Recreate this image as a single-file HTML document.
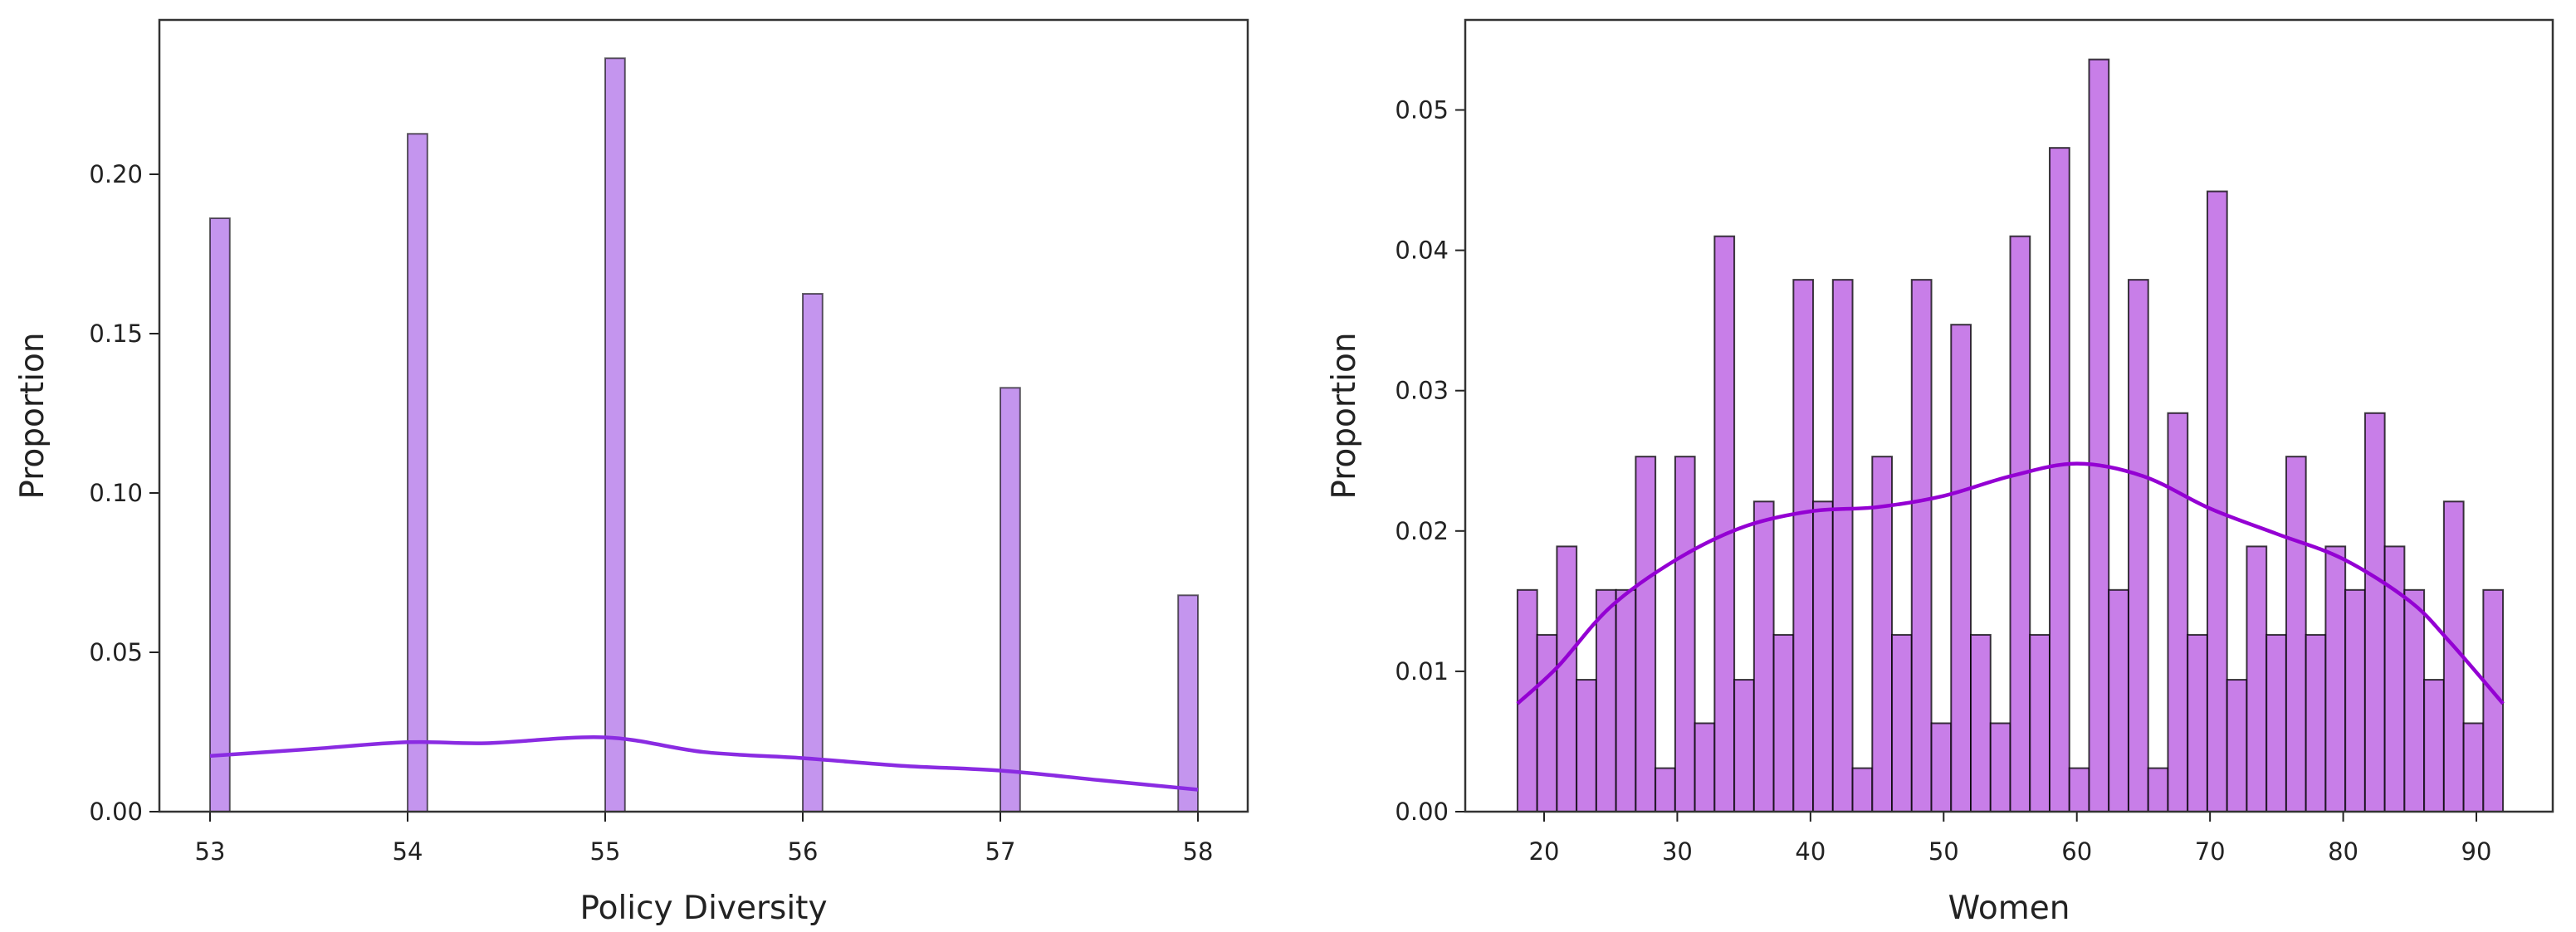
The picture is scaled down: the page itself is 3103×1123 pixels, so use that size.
<!DOCTYPE html>
<html><head><meta charset="utf-8"><style>
html,body{margin:0;padding:0;background:#fff;}
svg{display:block;font-family:"DejaVu Sans","Liberation Sans",sans-serif;}
</style></head><body>
<svg id="fig" width="3103" height="1123" viewBox="0 0 3103 1123" xmlns="http://www.w3.org/2000/svg">
<rect width="3103" height="1123" fill="#fff"/>
<g id="left"></g>
<g id="right"></g>
</svg>
<script>
// Left chart data
const leftCategories = [53, 54, 55, 56, 57, 58];
const leftValues = [0.1862, 0.2127, 0.2364, 0.1625, 0.1330, 0.0679];
const leftKdeX = [53, 53.5, 54, 54.4, 55, 55.5, 56, 56.5, 57, 57.5, 58];
const leftKdeY = [0.0175, 0.0196, 0.0218, 0.0215, 0.0233, 0.0187, 0.0168, 0.0144, 0.0129, 0.0099, 0.0069];
const leftXTicks = [53, 54, 55, 56, 57, 58];
const leftYTicks = [0, 0.05, 0.10, 0.15, 0.20];
const leftYTickLabels = ["0.00", "0.05", "0.10", "0.15", "0.20"];
// Right chart data
const rightBinStart = 18, rightBinEnd = 92;
const rightValues = [0.0158,0.0126,0.0189,0.0094,0.0158,0.0158,0.0253,0.0031,0.0253,0.0063,
0.0410,0.0094,0.0221,0.0126,0.0379,0.0221,0.0379,0.0031,0.0253,0.0126,
0.0379,0.0063,0.0347,0.0126,0.0063,0.0410,0.0126,0.0473,0.0031,0.0536,
0.0158,0.0379,0.0031,0.0284,0.0126,0.0442,0.0094,0.0189,0.0126,0.0253,
0.0126,0.0189,0.0158,0.0284,0.0189,0.0158,0.0094,0.0221,0.0063,0.0158];
const rightKdeX = [18, 21, 25, 30, 35, 40, 45, 50, 55, 60, 65, 70, 75, 80, 85, 88, 92];
const rightKdeY = [0.0077,0.0103,0.0146,0.0180,0.0203,0.0214,0.0217,0.0225,0.0239,0.0248,0.0239,0.0216,0.0198,0.0180,0.0150,0.0121,0.0077];
const rightXTicks = [20, 30, 40, 50, 60, 70, 80, 90];
const rightYTicks = [0, 0.01, 0.02, 0.03, 0.04, 0.05];
const rightYTickLabels = ["0.00", "0.01", "0.02", "0.03", "0.04", "0.05"];

const NS = "http://www.w3.org/2000/svg";
function mk(tag, attrs, parent){
  const e = document.createElementNS(NS, tag);
  for (const k in attrs) e.setAttribute(k, attrs[k]);
  parent.appendChild(e);
  return e;
}
function smoothPath(pts){
  let d = "M" + pts[0][0] + "," + pts[0][1];
  for (let i = 0; i < pts.length - 1; i++){
    const p0 = pts[i-1] || pts[i], p1 = pts[i], p2 = pts[i+1], p3 = pts[i+2] || p2;
    const c1x = p1[0] + (p2[0]-p0[0])/6, c1y = p1[1] + (p2[1]-p0[1])/6;
    const c2x = p2[0] - (p3[0]-p1[0])/6, c2y = p2[1] - (p3[1]-p1[1])/6;
    d += " C" + c1x + "," + c1y + " " + c2x + "," + c2y + " " + p2[0] + "," + p2[1];
  }
  return d;
}
function drawAxes(g, o){
  o.xTicks.forEach(t => {
    const x = o.sx(t);
    const tk = mk("line", {x1:x, x2:x, y1:o.bottom, y2:o.bottom+12, stroke:"#222", "stroke-width":2}, g);
    
    
    const tx = mk("text", {x:x, y:o.bottom+58, "font-size":29, "text-anchor":"middle", fill:"#222"}, g);
    tx.textContent = String(t);
    
    
  });
  o.yTicks.forEach((t, i) => {
    const y = o.sy(t);
    const tk = mk("line", {x1:o.left-12, x2:o.left, y1:y, y2:y, stroke:"#222", "stroke-width":2}, g);
    
    
    const tx = mk("text", {x:o.left-20, y:y+10, "font-size":29, "text-anchor":"end", fill:"#222"}, g);
    tx.textContent = o.yLabels[i];
    
    
  });
  const fr = mk("rect", {x:o.left, y:o.top, width:o.right-o.left, height:o.bottom-o.top, fill:"none", stroke:"#333", "stroke-width":2.5}, g);
  
  
  const xl = mk("text", {x:(o.left+o.right)/2, y:1107, "font-size":39, "text-anchor":"middle", fill:"#222"}, g);
  xl.textContent = o.xTitle;
  
  
  const cy = (o.top+o.bottom)/2;
  const yl = mk("text", {x:o.yTitleX, y:cy, "font-size":39, "text-anchor":"middle", fill:"#222", transform:"rotate(-90 "+o.yTitleX+" "+cy+")"}, g);
  yl.textContent = "Proportion";
  
  
}

// LEFT
(function(){
  const g = document.getElementById("left");
  const left=192, right=1503, top=24, bottom=978;
  const sx = v => 253 + (v-53)*238;
  const sy = v => bottom - v*(bottom-210)/0.20;
  const binW = 0.1;
  leftCategories.forEach((c, i) => {
    const x0 = c === 58 ? sx(c-binW) : sx(c);
    const r = mk("rect", {x:x0, y:sy(leftValues[i]), width:sx(c+binW)-sx(c), height:bottom-sy(leftValues[i]), fill:"#c495ee", stroke:"rgba(0,0,0,0.6)", "stroke-width":2}, g);
    
    
  });
  const pts = leftKdeX.map((x,i)=>[sx(x), sy(leftKdeY[i])]);
  const p = mk("path", {d:smoothPath(pts), fill:"none", stroke:"#8a2be2", "stroke-width":4.5}, g);
  
  
  drawAxes(g, {left, right, top, bottom, sx, sy, xTicks:leftXTicks, yTicks:leftYTicks, yLabels:leftYTickLabels, xTitle:"Policy Diversity", yTitleX:52});
})();

// RIGHT
(function(){
  const g = document.getElementById("right");
  const left=1765, right=3075, top=24, bottom=978;
  const sx = v => 1860 + (v-20)*(2983-1860)/70;
  const sy = v => bottom - v*(bottom-132.5)/0.05;
  const n = rightValues.length, w = (rightBinEnd-rightBinStart)/n;
  rightValues.forEach((v, i) => {
    const a = rightBinStart + i*w;
    const r = mk("rect", {x:sx(a), y:sy(v), width:sx(a+w)-sx(a), height:bottom-sy(v), fill:"#c87ee8", stroke:"rgba(0,0,0,0.75)", "stroke-width":2}, g);
    
    
  });
  const pts = rightKdeX.map((x,i)=>[sx(x), sy(rightKdeY[i])]);
  const p = mk("path", {d:smoothPath(pts), fill:"none", stroke:"#9400d3", "stroke-width":4.5}, g);
  
  
  drawAxes(g, {left, right, top, bottom, sx, sy, xTicks:rightXTicks, yTicks:rightYTicks, yLabels:rightYTickLabels, xTitle:"Women", yTitleX:1632});
})();
</script>
</body></html>
